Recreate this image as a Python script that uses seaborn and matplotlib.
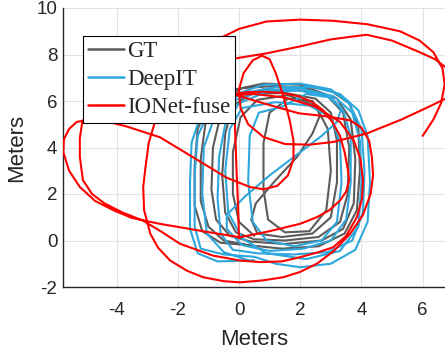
import matplotlib
matplotlib.use("Agg")
import matplotlib.pyplot as plt
import seaborn as sns
import pandas as pd
from matplotlib.lines import Line2D

# ---------------- data (meters) ----------------
gt_x = [0.3, -0.6, -1.2, -1.45, -1.45, -1.35, -1.0, -0.3, 0.8, 2.0, 3.0, 3.6, 3.9, 3.95, 3.85, 3.45, 2.6, 1.4,
        0.3, -0.5, -1.0, -1.25, -1.25, -1.1, -0.7, 0.1, 1.2, 2.4, 3.2, 3.65, 3.8, 3.75, 3.4, 2.7, 1.5, 0.4,
        -0.3, -0.75, -0.9, -0.85, -0.6, -0.1, 0.8, 2.0, 2.9, 3.4, 3.6, 3.55, 3.3, 2.6, 1.5, 0.5,
        -0.1, -0.45, -0.55, -0.45, -0.2, 0.4, 1.5, 2.5, 3.0, 3.2, 3.2, 3.0, 2.4, 1.4, 0.6,
        0.4, 0.55, 1.2, 1.9, 2.4, 2.65, 2.4, 1.6, 1.0, 0.8, 0.8, 0.95, 1.5, 2.3, 2.85, 3.0, 2.9, 2.5,
        1.6, 0.6, 0.05, -0.2, -0.2, 0.0, 0.5]
gt_y = [-0.2, -0.1, 0.4, 1.5, 3.2, 4.8, 5.8, 6.45, 6.75, 6.7, 6.45, 5.9, 4.9, 3.0, 1.3, 0.3, -0.25, -0.35,
        -0.2, 0.0, 0.6, 1.7, 3.5, 5.0, 6.0, 6.55, 6.65, 6.5, 6.1, 5.2, 3.5, 1.6, 0.5, 0.0, -0.15, -0.05,
        0.2, 0.9, 2.2, 4.0, 5.4, 6.2, 6.5, 6.45, 6.2, 5.5, 4.0, 2.0, 0.8, 0.15, 0.0, 0.05,
        0.35, 1.2, 2.8, 4.6, 5.8, 6.3, 6.35, 6.1, 5.5, 4.3, 2.5, 1.0, 0.3, 0.15, 0.3,
        0.9, 1.6, 2.6, 3.6, 4.6, 5.4, 6.0, 6.1, 5.5, 4.2, 2.2, 0.9, 0.35, 0.4, 1.3, 3.0, 4.8, 5.8,
        6.25, 6.05, 5.3, 3.8, 2.0, 0.8, 0.2]

deepit_x = [0.5, -0.7, -1.35, -1.6, -1.6, -1.55, -1.3, -0.7, 0.2, 1.2, 2.4, 3.3, 3.9, 4.2, 4.28, 4.2, 3.8, 3.0, 2.0, 1.2,
            0.5, -0.5, -1.25, -1.45, -1.45, -1.35, -1.0, -0.3, 0.8, 2.0, 3.0, 3.6, 4.0, 4.1, 4.05, 3.7, 2.9, 1.8, 0.6,
            -0.2, -0.6, -0.7, -0.65, -0.45, 0.0, 0.9, 2.0, 2.9, 3.4, 3.65, 3.65, 3.5, 3.0, 2.1, 1.0, 0.1,
            -0.4, -0.4, 0.2, 1.0, 1.9, 2.7, 3.2, 3.35, 3.0, 2.2,
            1.4, 0.65, 0.35, 0.3, 0.45, 0.9, 1.8, 2.7, 3.2, 3.35, 3.3, 3.0, 2.3, 1.2,
            0.1, -0.3, -0.45, -0.35, 0.1, 0.9, 2.2, 3.3, 3.9, 4.0, 3.95, 3.7, 3.1, 2.0, 0.8, -0.1,
            -0.8, -1.15, -1.2, -1.05, -0.5, 0.3]
deepit_y = [-0.85, -0.9, -0.55, 0.5, 2.5, 4.2, 5.2, 5.85, 6.35, 6.6, 6.6, 6.3, 5.6, 4.5, 2.5, 0.8, -0.4, -1.0, -1.15, -1.0,
            -0.7, -0.6, -0.35, 0.6, 2.8, 4.5, 5.5, 6.2, 6.7, 6.75, 6.5, 5.9, 4.8, 3.0, 1.2, 0.0, -0.5, -0.6, -0.55,
            -0.4, 0.3, 1.8, 3.6, 5.0, 5.9, 6.4, 6.45, 6.2, 5.6, 4.5, 2.5, 0.9, 0.0, -0.35, -0.45, -0.2,
            0.5, 1.1, 1.9, 2.8, 3.7, 4.5, 5.1, 5.7, 6.15, 6.3,
            5.75, 5.5, 4.5, 2.5, 0.8, 0.0, -0.25, 0.0, 0.8, 2.5, 4.2, 5.3, 5.8, 5.95,
            5.7, 4.8, 3.0, 1.2, 0.1, -0.55, -0.8, -0.45, 0.6, 2.5, 4.3, 5.5, 6.2, 6.55, 6.45, 6.05,
            5.3, 4.0, 2.0, 0.3, -0.5, -0.85]

ionet_x = [0.0, -0.03, -0.08, -0.12, -0.15, -0.2,
           0.3, 0.8, 1.4, 1.96, 2.4, 2.75, 3.05, 3.3, 3.45, 3.55, 3.6, 3.5, 3.3, 2.95, 2.54, 2.0, 1.0, 0.03,
           -1.0, -2.6, -3.5, -4.1, -4.7, -5.2, -5.55, -5.74, -5.72, -5.55, -5.3, -4.9, -4.4,
           -3.66, -2.58, -1.5, -0.4, 0.36, 0.8, 1.25, 1.6, 1.78, 1.78, 1.65, 1.45, 1.2, 1.0, 0.75, 0.45,
           0.15, 0.0, 0.05, 0.3, 0.8, 1.5, 2.3, 3.08, 4.17, 5.3, 6.2, 6.9,
           7.0, 6.8, 6.4, 5.9, 5.0, 4.17, 3.0, 2.0, 0.9, -0.13,
           -2.5, -4.8, -5.12, -5.2, -5.2, -5.1, -4.8, -4.4, -3.8, -3.14, -2.5, -1.93, -0.85, 0.03, 0.69,
           1.4, 1.99, 2.6, 3.08, 3.5, 3.85, 4.02, 4.05, 3.97, 3.75, 3.3, 2.5, 1.5, 0.5, -0.2,
           -2.0, -2.7, -2.95, -3.05, -3.13, -3.1, -2.9, -2.65, -2.25, -1.7, -1.17, -0.5, 0.03, 0.75,
           1.45, 2.0, 2.54, 3.1, 3.63, 4.05, 4.3, 4.38, 4.34, 4.25, 4.0, 3.63, 2.8, 1.96, 0.8, -0.2,
           -1.5, -0.8, -0.4, 0.0, 0.9, 2.0, 3.08, 4.2, 5.26, 5.9, 6.35, 6.65, 6.72, 6.6, 6.35, 6.0]
ionet_y = [0.1, 1.5, 3.0, 4.5, 5.6, 6.3,
           6.38, 6.4, 6.35, 6.2, 5.95, 5.6, 5.1, 4.5, 3.8, 3.1, 2.6, 2.1, 1.72, 1.3, 1.0, 0.72, 0.4, 0.14,
           0.36, 0.72, 0.97, 1.3, 1.7, 2.3, 3.0, 3.8, 4.35, 4.8, 5.1, 5.2, 5.15,
           4.9, 4.44, 3.58, 2.7, 2.3, 2.2, 2.35, 2.8, 3.5, 4.3, 5.2, 6.2, 7.2, 7.8, 7.95, 7.75,
           7.2, 6.5, 5.7, 5.0, 4.45, 4.15, 4.12, 4.24, 4.6, 5.2, 5.75, 6.2,
           6.7, 7.4, 7.8, 8.1, 8.6, 8.85, 8.65, 8.35, 8.05, 7.83,
           7.0, 5.8, 5.1, 4.4, 3.6, 2.6, 2.0, 1.6, 1.2, 0.86, 0.35, -0.14, -0.65, -0.86, -0.93,
           -0.9, -0.72, -0.5, -0.29, 0.2, 1.0, 1.8, 2.6, 3.5, 4.3, 5.1, 5.75, 6.15, 6.3, 6.25,
           6.0, 5.3, 4.2, 3.2, 2.3, 1.3, 0.3, -0.3, -0.86, -1.3, -1.58, -1.75, -1.8, -1.72,
           -1.58, -1.35, -1.0, -0.45, 0.29, 1.1, 2.0, 2.8, 3.6, 4.3, 4.85, 5.17, 5.35, 5.47, 5.9, 6.3,
           7.5, 8.6, 8.84, 9.1, 9.42, 9.5, 9.45, 9.3, 9.0, 8.6, 8.1, 7.4, 6.7, 5.9, 5.2, 4.5]

methods = ["GT", "DeepIT", "IONet-fuse"]
colors = {"GT": "#5b5b5b", "DeepIT": "#2ea7dc", "IONet-fuse": "#ff0000"}

frames = []
for name, xs, ys in [("GT", gt_x, gt_y), ("DeepIT", deepit_x, deepit_y), ("IONet-fuse", ionet_x, ionet_y)]:
    frames.append(pd.DataFrame({"x": xs, "y": ys, "method": name}))
df = pd.concat(frames, ignore_index=True)

# ---------------- figure ----------------
sns.set_style("white")
plt.rcParams["font.family"] = ["Liberation Sans", "DejaVu Sans"]

fig = plt.figure(figsize=(4.45, 3.52), dpi=100)
ax = fig.add_axes([63 / 445, 65 / 352, (445 - 63) / 445, (287 - 8) / 352])

for m in methods:
    sns.lineplot(data=df[df["method"] == m], x="x", y="y", sort=False, estimator=None,
                 color=colors[m], linewidth=1.5, ax=ax, legend=False, zorder=3)
for ln in ax.lines:
    ln.set_solid_joinstyle("round")

ax.set_xlim(-5.75, 6.73)
ax.set_ylim(-2, 10)
ax.set_xticks([-4, -2, 0, 2, 4, 6])
ax.set_yticks([-2, 0, 2, 4, 6, 8, 10])
ax.set_xticklabels(["-4", "-2", "0", "2", "4", "6"])
ax.set_yticklabels(["-2", "0", "2", "4", "6", "8", "10"])
ax.grid(True, color="#e3e3e3", linewidth=0.8, zorder=0)
ax.set_axisbelow(True)

for s in ["top", "right"]:
    ax.spines[s].set_visible(False)
for s in ["left", "bottom"]:
    ax.spines[s].set_color("#262626")
    ax.spines[s].set_linewidth(1.0)

ax.tick_params(direction="in", length=4, width=1.0, colors="#262626", labelsize=13.5)
ax.tick_params(axis="x", pad=11)
ax.tick_params(axis="y", pad=4)
ax.set_xlabel("Meters", fontsize=16, color="#262626", labelpad=7)
ax.set_ylabel("Meters", fontsize=16, color="#262626", labelpad=7)

handles = [Line2D([0], [0], color=colors[m], linewidth=1.8) for m in methods]
leg = fig.legend(handles, methods, loc="upper left", bbox_to_anchor=(83 / 445, 1 - 36 / 352),
                 borderaxespad=0, frameon=True, fancybox=False, framealpha=1,
                 prop={"family": "Liberation Serif", "size": 16.5},
                 handlelength=1.55, handletextpad=0.15, labelspacing=0.3, borderpad=0.22)
leg.get_frame().set_edgecolor("black")
leg.get_frame().set_linewidth(0.8)
leg.set_zorder(10)

fig.savefig("out.png", dpi=100)
